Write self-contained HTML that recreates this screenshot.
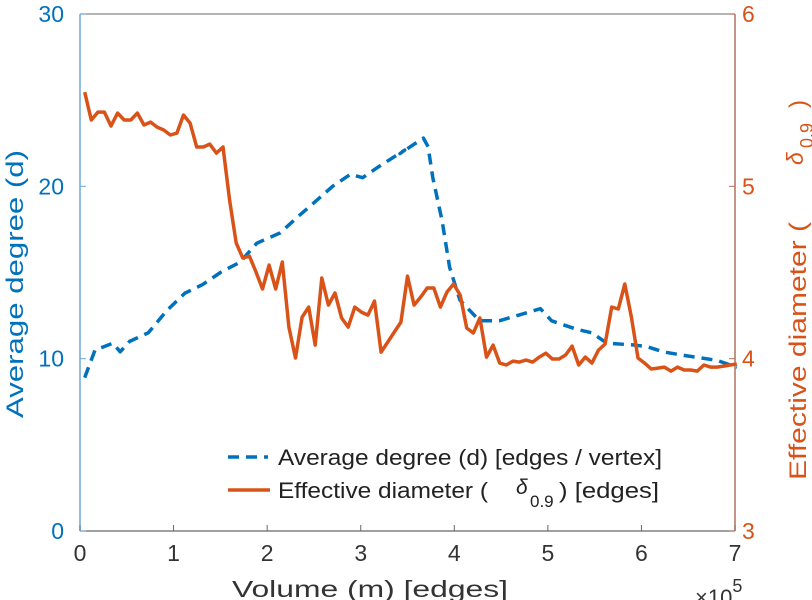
<!DOCTYPE html>
<html><head><meta charset="utf-8">
<style>
body{margin:0;background:#fff;}
svg{display:block;font-family:"Liberation Sans",sans-serif;}
</style></head>
<body>
<svg id="chart" width="812" height="600" viewBox="0 0 812 600">
  <g id="axes"></g>
  <g id="series"></g>
  <g id="legend">
    <line x1="228" y1="457" x2="268" y2="457" stroke="#0072BD" stroke-width="3.5" stroke-dasharray="11,7"/>
    <text x="278" y="465" font-size="22" fill="#222" textLength="384" lengthAdjust="spacingAndGlyphs">Average degree (d) [edges / vertex]</text>
    <line x1="228" y1="490" x2="270" y2="490" stroke="#D95319" stroke-width="3.5"/>
    <g>
      <text x="278" y="498" font-size="22" fill="#222" textLength="210" lengthAdjust="spacingAndGlyphs">Effective diameter (</text>
      <text x="516" y="494" font-size="21" font-style="italic" fill="#222">δ</text>
      <text x="530" y="507" font-size="17" fill="#222">0.9</text>
      <text x="559" y="498" font-size="22" fill="#222" textLength="100" lengthAdjust="spacingAndGlyphs">) [edges]</text>
    </g>
  </g>
  <text x="232" y="597" font-size="23" fill="#333" textLength="276" lengthAdjust="spacingAndGlyphs">Volume (m) [edges]</text>
  <text x="695" y="605" font-size="22" fill="#333">×10<tspan font-size="18" dy="-13">5</tspan></text>
  <text transform="translate(23,418) rotate(-90)" font-size="24" fill="#0072BD" textLength="268" lengthAdjust="spacingAndGlyphs">Average degree (d)</text>
  <g>
    <text transform="translate(806,480) rotate(-90)" font-size="24" fill="#D95319" textLength="258" lengthAdjust="spacingAndGlyphs">Effective diameter (</text>
    <text transform="translate(803,165) rotate(-90)" font-size="23" font-style="italic" fill="#D95319">δ</text>
    <text transform="translate(813,148) rotate(-90)" font-size="18" fill="#D95319">0.9</text>
    <text transform="translate(806,108) rotate(-90)" font-size="24" fill="#D95319">)</text>
  </g>
</svg>
<script>
const xTicks=[0,1,2,3,4,5,6,7];
const leftTicks=[0,10,20,30];
const rightTicks=[3,4,5,6];
const degreeX=[0.05,0.16,0.35,0.43,0.53,0.73,0.93,1.12,1.31,1.50,1.71,1.89,2.14,2.32,2.49,2.70,2.89,3.02,3.18,3.47,3.42,3.67,3.72,3.77,3.87,3.95,4.06,4.27,4.48,4.92,5.04,5.31,5.47,5.63,5.91,6.06,6.23,6.44,6.81,7.02];
const degreeY=[8.9,10.5,10.9,10.4,11.0,11.5,12.8,13.8,14.3,15.0,15.6,16.7,17.3,18.2,19.0,20.0,20.7,20.5,21.1,22.1,21.9,22.8,22.3,20.5,18.0,15.3,13.4,12.2,12.2,12.9,12.2,11.7,11.5,10.9,10.8,10.7,10.4,10.2,9.9,9.5];
const diamStart=0.05, diamStep=0.0704;
const diameterY=[5.547,5.385,5.431,5.431,5.350,5.425,5.385,5.385,5.425,5.356,5.373,5.344,5.327,5.298,5.309,5.414,5.367,5.228,5.228,5.245,5.193,5.228,4.920,4.671,4.584,4.595,4.503,4.404,4.543,4.404,4.561,4.183,4.004,4.241,4.299,4.079,4.468,4.311,4.381,4.236,4.183,4.299,4.270,4.253,4.334,4.038,4.096,4.154,4.212,4.479,4.311,4.357,4.410,4.410,4.299,4.387,4.433,4.369,4.178,4.149,4.236,4.009,4.079,3.974,3.963,3.986,3.980,3.992,3.980,4.009,4.032,3.998,3.998,4.021,4.073,3.963,4.009,3.974,4.050,4.085,4.299,4.288,4.433,4.241,4.004,3.974,3.940,3.945,3.951,3.928,3.951,3.934,3.934,3.928,3.963,3.951,3.951,3.957,3.963,3.969];

const X0=80,X1=735,YT=14,YB=531;
const sx=v=>X0+(v-0)/(7-0)*(X1-X0);
const syL=v=>YB-(v-0)/(30-0)*(YB-YT);
const syR=v=>YB-(v-3)/(6-3)*(YB-YT);
const NS='http://www.w3.org/2000/svg';
function mk(tag,attrs,parent){const e=document.createElementNS(NS,tag);for(const k in attrs)e.setAttribute(k,attrs[k]);parent.appendChild(e);return e;}
const axes=document.getElementById('axes'), series=document.getElementById('series');

let e=mk('line',{x1:X0,y1:YB,x2:X1,y2:YB,stroke:'#666','stroke-width':1.3},axes);


e=mk('line',{x1:X0,y1:YT,x2:X1,y2:YT,stroke:'#888','stroke-width':1.3},axes);


e=mk('line',{x1:X0,y1:YT,x2:X0,y2:YB,stroke:'#6fa8dc','stroke-width':1.5},axes);


e=mk('line',{x1:X1,y1:YT,x2:X1,y2:YB,stroke:'#b07060','stroke-width':1.5},axes);



xTicks.forEach(t=>{
  const x=sx(t);
  let l=mk('line',{x1:x,y1:YB,x2:x,y2:YB-6,stroke:'#666','stroke-width':1},axes);
  
  
  let tx=mk('text',{x:x,y:YB+30,'font-size':23,fill:'#333','text-anchor':'middle'},axes);
  tx.textContent=t;
  
  
});
leftTicks.forEach(t=>{
  const y=syL(t);
  let l=mk('line',{x1:X0,y1:y,x2:X0+6,y2:y,stroke:'#6fa8dc','stroke-width':1},axes);
  
  
  let tx=mk('text',{x:X0-16,y:y+8,'font-size':23,fill:'#0072BD','text-anchor':'end'},axes);
  tx.textContent=t;
  
  
});
rightTicks.forEach(t=>{
  const y=syR(t);
  let l=mk('line',{x1:X1-6,y1:y,x2:X1,y2:y,stroke:'#b07060','stroke-width':1},axes);
  
  
  let tx=mk('text',{x:X1+7,y:y+8,'font-size':23,fill:'#D95319','text-anchor':'start'},axes);
  tx.textContent=t;
  
  
});

const dPts=degreeX.map((x,i)=>sx(x).toFixed(1)+','+syL(degreeY[i]).toFixed(1)).join(' ');
let p1=mk('polyline',{points:dPts,fill:'none',stroke:'#0072BD','stroke-width':3.5,'stroke-dasharray':'11,7','stroke-linejoin':'round'},series);


const rPts=diameterY.map((v,i)=>sx(diamStart+i*diamStep).toFixed(1)+','+syR(v).toFixed(1)).join(' ');
let p2=mk('polyline',{points:rPts,fill:'none',stroke:'#D95319','stroke-width':3.5,'stroke-linejoin':'round'},series);


</script>
</body></html>
